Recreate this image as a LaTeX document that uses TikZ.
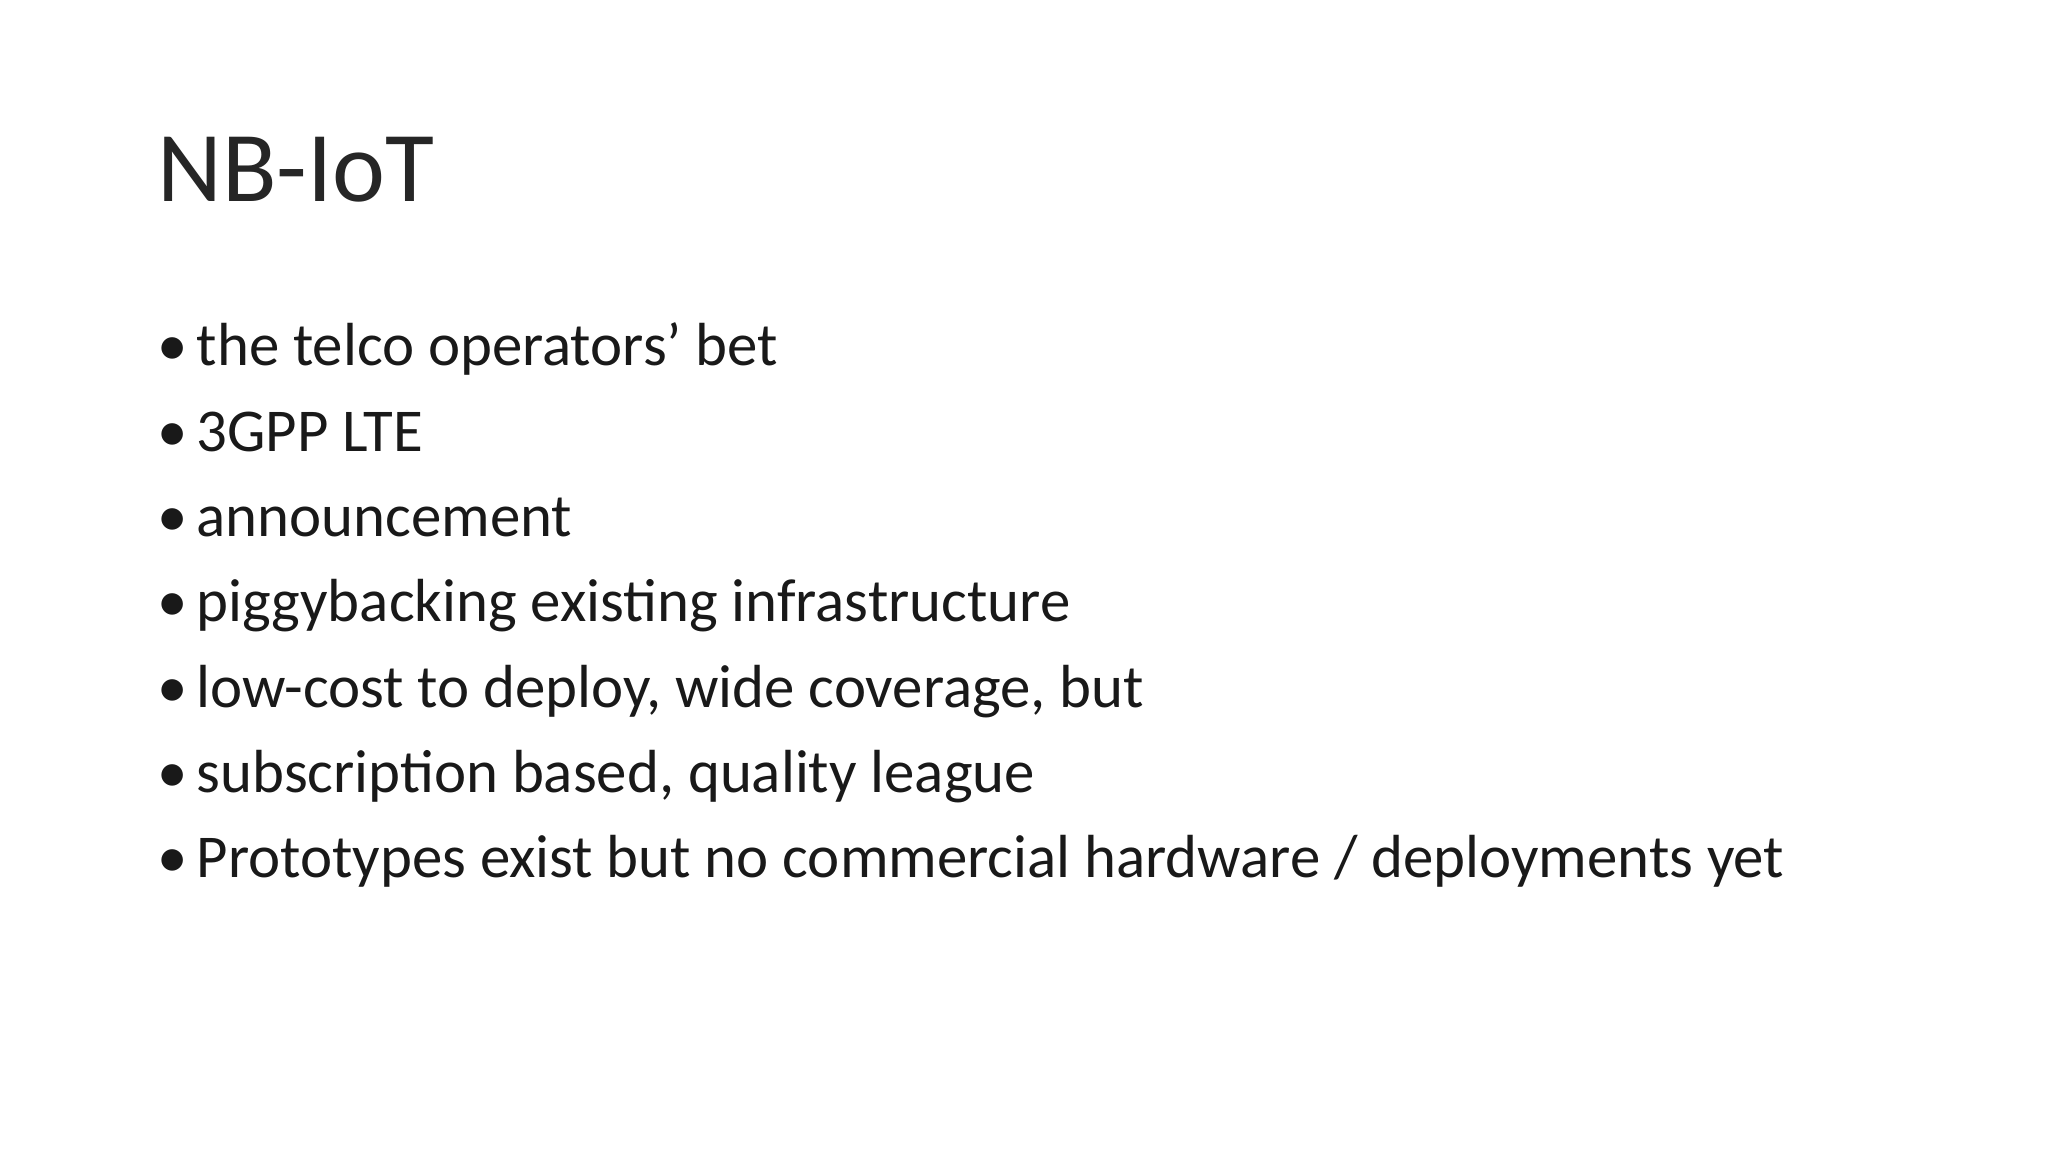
\documentclass[tikz,border=0pt]{standalone}
\usepackage{fontspec}
\setmainfont{Carlito}
\begin{document}
\begin{tikzpicture}[x=0.01cm,y=-0.01cm,
  title/.style={anchor=base west,inner sep=0pt,font=\fontsize{28.5}{30}\selectfont,text=black!85},
  item/.style={anchor=base west,inner sep=0pt,font=\fontsize{17.3}{20}\selectfont,text=black!90}]
\useasboundingbox[fill=white] (0,0) rectangle (2048,1152);
\node[title] (t) at (157,202) {NB-IoT};
\foreach \i/\txt in {0/{the telco operators’ bet},1/{3GPP LTE},2/{announcement},3/{piggybacking existing infrastructure},4/{low-cost to deploy, wide coverage, but},5/{subscription based, quality league},6/{Prototypes exist but no commercial hardware / deployments yet}}{
  \node[item] (b\i) at (157,366+85.3*\i) {•};
  \node[item] (i\i) at (196,366+85.3*\i) {\txt};
}
\end{tikzpicture}
\end{document}
